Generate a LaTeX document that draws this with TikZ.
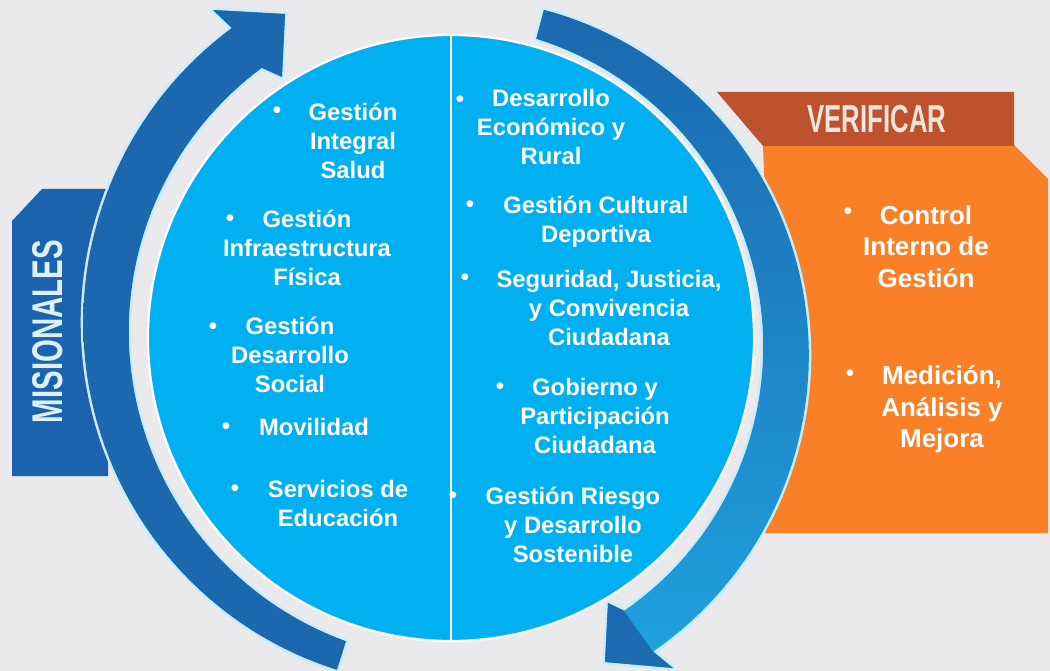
\documentclass[tikz,border=0pt]{standalone}
\usepackage{fontspec}
\setmainfont{Liberation Sans}
\definecolor{bg}{HTML}{EAEAEC}
\definecolor{misblue}{HTML}{1C63AF}
\definecolor{headred}{HTML}{BF522E}
\definecolor{orangebody}{HTML}{F98027}
\definecolor{discfill}{HTML}{00B0F0}
\definecolor{glow}{HTML}{C8EEFB}
\definecolor{arrdark}{HTML}{1C68AE}
\definecolor{arrmid}{HTML}{1F8DD3}
\definecolor{arrlight}{HTML}{1FA2E0}
\definecolor{headfill}{HTML}{1C6AAF}
\definecolor{mislabel}{HTML}{DDF1FA}
\definecolor{verlabel}{HTML}{F6E6DA}
\begin{document}
\begin{tikzpicture}[x=1pt,y=-1pt,
  txt/.style={text=white, font=\bfseries\fontsize{23.8}{29}\selectfont, align=center, inner sep=0pt},
  otxt/.style={text=white, font=\bfseries\fontsize{26}{31.5}\selectfont, align=center, inner sep=0pt},
  bul/.style={text=white, font=\fontsize{25}{25}\selectfont, inner sep=0pt},
  glowline/.style={preaction={draw=glow, line width=5pt, line join=round}}
]
\useasboundingbox (0,0) rectangle (1050,671);
\fill[bg] (0,0) rectangle (1050,671);

% MISIONALES banner
\fill[misblue] (12,221) -- (42,189) -- (108,189) -- (108,476) -- (12,476) -- cycle;
\node[rotate=90, text=mislabel, font=\bfseries\fontsize{43}{43}\selectfont, inner sep=0pt] (mis) at (47.5,331.5) {\scalebox{0.684}[1]{MISIONALES}};

% VERIFICAR banner
\fill[orangebody] (763,145) -- (1014,145) -- (1048,179) -- (1048,533) -- (756,533) -- (779,480) -- (795,420) -- (800,338) -- (788,260) -- (765,200) -- cycle;
\fill[headred] (717,92) -- (1014,92) -- (1014,146) -- (763,146) -- cycle;
\node[text=verlabel, font=\bfseries\fontsize{39}{39}\selectfont, inner sep=0pt] (ver) at (877,119) {\scalebox{0.66}[1]{VERIFICAR}};

% left arrow
\shade[glowline, top color=arrdark, middle color=arrmid, bottom color=arrdark]
  plot[domain=0:1, samples=70, variable=\t] ({453+(362+10*sin(90*\t))*cos(251.3-124.9*\t)}, {327-(362+10*sin(90*\t))*sin(251.3-124.9*\t)})
  -- (213,10) -- (285,14) -- (282,77)
  -- plot[domain=1:0, samples=70, variable=\t] ({453+(332-10*sin(90*\t))*cos(251.3-124.9*\t)}, {327-(332-10*sin(90*\t))*sin(251.3-124.9*\t)})
  -- cycle;
\fill[arrdark, opacity=0.6] (232,28) -- (213,10) -- (285,14) -- (282,77) -- (262,68) -- cycle;

% right arrow
\shade[glowline, top color=arrdark, middle color=arrmid, bottom color=arrlight]
  plot[domain=0:1, samples=70, variable=\t] ({446+(355+10*sin(90*\t))*cos(74-129.5*\t)}, {351-(355+10*sin(90*\t))*sin(74-129.5*\t)})
  -- (673,668) -- (605,662) -- (608,603)
  -- plot[domain=1:0, samples=70, variable=\t] ({446+(325-10*sin(90*\t))*cos(74-129.5*\t)}, {351-(325-10*sin(90*\t))*sin(74-129.5*\t)})
  -- cycle;
\fill[headfill] (653,652) -- (673,668) -- (605,662) -- (608,603) -- (624,611) -- cycle;

% central disc
\node[circle, draw=white, line width=2.2pt, fill=discfill, minimum size=606pt, inner sep=0pt] (disc) at (451,338) {};
\draw[white, line width=1.5pt] (disc.north) -- (disc.south);

% left column
\node[bul] (b1) at (277,113) {•};
\node[txt] (l1) at (353,140.7) {Gestión\\Integral\\Salud};
\node[bul] (b2) at (230,220.5) {•};
\node[txt] (l2) at (307,248) {Gestión\\Infraestructura\\Física};
\node[bul] (b3) at (213,328.5) {•};
\node[txt] (l3) at (290,355) {Gestión\\Desarrollo\\Social};
\node[bul] (b4) at (226,428.5) {•};
\node[txt] (l4) at (314,427) {Movilidad};
\node[bul] (b5) at (235,490.5) {•};
\node[txt] (l5) at (338,503.5) {Servicios de\\Educación};

% right column
\node[bul] (c1) at (460,101.5) {•};
\node[txt] (r1) at (551,127.3) {Desarrollo\\Económico y\\Rural};
\node[bul] (c2) at (470,206.5) {•};
\node[txt] (r2) at (596,222) {Gestión Cultural\\Deportiva};
\node[bul] (c3) at (465,279.5) {•};
\node[txt] (r3) at (609,308) {Seguridad, Justicia,\\y Convivencia\\Ciudadana};
\node[bul] (c4) at (500,388.5) {•};
\node[txt] (r4) at (595,416) {Gobierno y\\Participación\\Ciudadana};
\node[bul] (c5) at (453,497.5) {•};
\node[txt] (r5) at (573,525) {Gestión Riesgo\\y Desarrollo\\Sostenible};

% orange column
\node[bul] (d1) at (848,213.5) {•};
\node[otxt] (o1) at (926,246.5) {Control\\Interno de\\Gestión};
\node[bul] (d2) at (850,375.5) {•};
\node[otxt] (o2) at (942,409.5) {Medición,\\Análisis y\\Mejora};
\end{tikzpicture}
\end{document}
